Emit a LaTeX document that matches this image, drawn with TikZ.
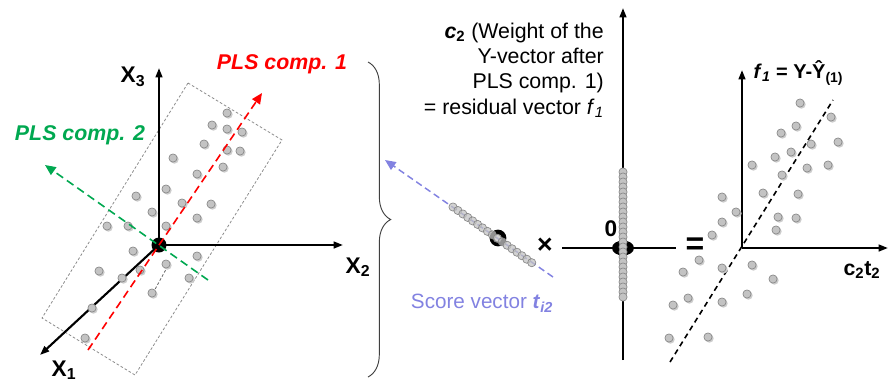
\documentclass[tikz,border=0pt]{standalone}
\usepackage{fontspec}
\setmainfont{Liberation Sans}
\usetikzlibrary{arrows.meta, decorations.pathreplacing}
\definecolor{compA}{RGB}{255, 0, 0}
\definecolor{compB}{RGB}{0, 168, 80}
\definecolor{scoreC}{RGB}{130, 130, 225}
\definecolor{ptFill}{RGB}{195, 195, 195}
\definecolor{ptEdge}{RGB}{135, 135, 135}

\tikzset{
    axis/.style={line width=1.6pt, -{Triangle[length=7pt, width=5pt]}},
    comp/.style={line width=1.2pt, dash pattern=on 6pt off 3.5pt, -{Triangle[length=8pt, width=7pt]}},
    frame/.style={black!45, line width=0.6pt, dash pattern=on 2pt off 1.5pt},
    dot/.style={fill=ptFill, draw=ptEdge, line width=0.5pt},
    axlabel/.style={font=\fontsize{17}{17}\selectfont\bfseries},
}

\begin{document}
\begin{tikzpicture}[x=0.75pt, y=-0.75pt, font=\fontsize{16}{19}\selectfont]
    \useasboundingbox (0,0) rectangle (889,383);

    % X space with the two PLS components
    \coordinate (O) at (159,245);
    \coordinate (X1end) at (40,355);
    \coordinate (X2end) at (343,245);
    \coordinate (X3end) at (159,68);
    \draw[frame] (188,83) -- (282,140) -- (135,375) -- (42,318) -- cycle;
    \draw[axis] (O) -- (X3end);
    \draw[axis] (O) -- (X2end);
    \draw[axis] (O) -- (X1end);
    \draw[black!60, line width=0.6pt, dash pattern=on 2pt off 1.5pt] (170,262) -- (153,293);
    \foreach \x/\y in {227/113, 212/125, 227/129, 242/132, 204/144, 227/150, 240/151, 173/158,
        223/167, 197/174, 166/189, 136/196, 182/203, 211/204, 152/212, 197/218, 107/226,
        128/226, 166/226, 133/251, 197/256, 166/264, 99/271, 140/270, 122/278, 189/278,
        152/293, 92/308, 85/338}
        {\fill[black!20] (\x+1.4,\y+1.4) circle (4.3);
         \filldraw[dot] (\x,\y) circle (4.1);}
    \fill (O) circle (7.5);
    \coordinate (c1start) at (88,350);
    \coordinate (c1end) at (262,93);
    \coordinate (c2start) at (208,280);
    \coordinate (c2end) at (45,165);
    \draw[comp, compA] (c1start) -- (c1end);
    \draw[comp, compB] (c2start) -- (c2end);
    \node[axlabel] (lx3) at (133,77) {X\textsubscript{3}};
    \node[axlabel] (lx2) at (358,267) {X\textsubscript{2}};
    \node[axlabel] (lx1) at (64,370) {X\textsubscript{1}};
    \node[font=\fontsize{16}{16}\selectfont\bfseries\itshape, text=compA] (lc1) at (282,64) {PLS comp. 1};
    \node[font=\fontsize{16}{16}\selectfont\bfseries\itshape, text=compB] (lc2) at (80,135) {PLS comp. 2};

    % brace
    \coordinate (brTop) at (368,62);
    \coordinate (brBot) at (368,377);
    \draw[black!75, line width=0.7pt, decorate, decoration={brace, amplitude=17pt}] (brTop) -- (brBot);

    % score vector t2
    \coordinate (sStart) at (553,277);
    \coordinate (sEnd) at (385,160);
    \draw[scoreC, line width=1.1pt, dash pattern=on 5pt off 3pt, -{Triangle[length=8pt, width=7pt]}] (sStart) -- (sEnd);
    \draw[line width=3.5pt] (498,238) circle (6);
    \foreach \t in {0,0.06,...,1.01}
        {\filldraw[dot, fill opacity=0.75] (453+82*\t,207+58*\t) circle (4.1);}
    \node[text=scoreC, font=\fontsize{15.5}{15.5}\selectfont] (lsc) at (482,303) {Score vector \textbf{\textit{t}}\textsubscript{\textbf{\textit{i2}}}};
    \node[font=\fontsize{20}{20}\selectfont\bfseries] (times) at (545,246) {×};

    % weight c2
    \coordinate (hLeft) at (562,248);
    \coordinate (hRight) at (676,248);
    \coordinate (vBot) at (623,360);
    \coordinate (vTop) at (623,8);
    \draw[line width=1.6pt] (hLeft) -- (hRight);
    \draw[axis] (vBot) -- (vTop);
    \fill (623,248) ellipse (11 and 7.5);
    \foreach \y in {172,177,...,297}
        {\filldraw[dot] (623,\y) circle (4.1);}
    \node[font=\fontsize{17}{17}\selectfont\bfseries] (zero) at (611,229) {0};
    \node[align=right, anchor=east, inner sep=0pt] (wtext) at (604,70)
        {\textbf{\textit{c}}\textsubscript{\textbf{2}} (Weight of the\\
         Y-vector after\\
         PLS comp. 1)\\
         = residual vector \textit{f}\textsubscript{\textit{1}}};
    \node[font=\fontsize{24}{24}\selectfont\bfseries] (eq) at (695,246) {=};

    % residual f1 against c2t2
    \coordinate (R) at (742,248);
    \coordinate (Rtop) at (742,70);
    \coordinate (Rright) at (888,248);
    \coordinate (fitA) at (670,362);
    \coordinate (fitB) at (833,100);
    \draw[axis] (R) -- (Rtop);
    \draw[axis] (R) -- (Rright);
    \draw[line width=1.2pt, dash pattern=on 4pt off 3pt] (fitA) -- (fitB);
    \foreach \x/\y in {800/103, 831/117, 796/126, 781/133, 811/144, 838/142, 791/152, 775/157,
        752/165, 807/168, 828/165, 782/175, 763/193, 798/194, 722/197, 736/212, 778/217,
        796/218, 722/222, 776/230, 712/235, 699/260, 722/268, 752/265, 773/279, 683/272,
        688/298, 673/305, 722/302, 747/294, 669/338, 708/337}
        {\fill[black!20] (\x+1.4,\y+1.4) circle (4.3);
         \filldraw[dot] (\x,\y) circle (4.1);}
    \node[anchor=west, font=\fontsize{15}{15}\selectfont\bfseries] (lf) at (749,73)
        {\textit{f}\textsubscript{\textit{1}} = Y-Ŷ\textsubscript{(1)}};
    \node[font=\fontsize{16}{16}\selectfont\bfseries] (lct) at (862,270) {c\textsubscript{2}t\textsubscript{2}};
\end{tikzpicture}
\end{document}
